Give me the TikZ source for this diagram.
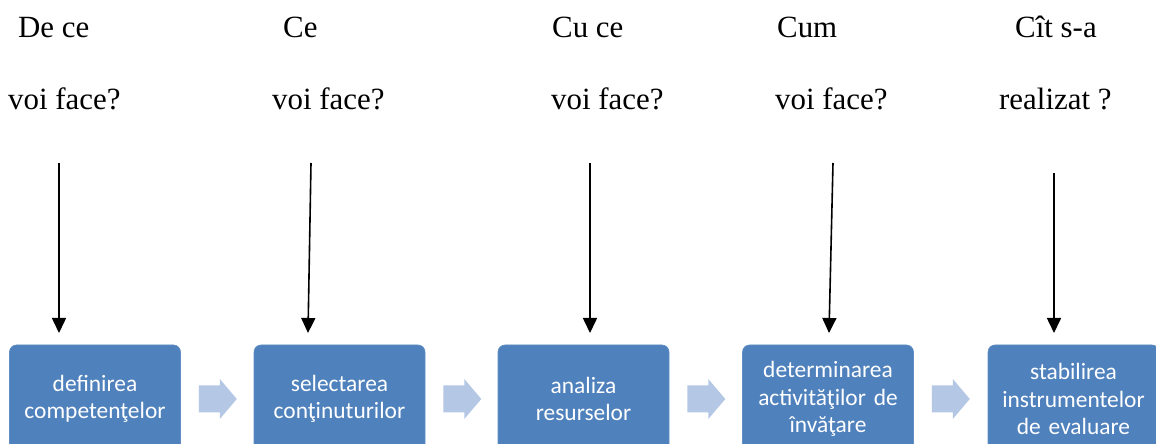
\documentclass[tikz,border=0pt]{standalone}
\usepackage{fontspec}
\setmainfont{Liberation Serif}
\newfontfamily\boxfont{Carlito}
\usetikzlibrary{arrows.meta}
\definecolor{boxblue}{HTML}{4F81BD}
\definecolor{chevron}{HTML}{B4C7E4}
\tikzset{
  question/.style={anchor=base west, inner sep=0pt, font=\fontsize{31}{31}\selectfont},
  stepbox/.style={rectangle, rounded corners=7bp, fill=boxblue, draw=boxblue!90!white, line width=0.6bp,
    minimum width=171bp, minimum height=108bp, text width=168bp, align=center, text=white, inner sep=0pt,
    font=\boxfont\fontsize{23.5}{27.5}\selectfont},
  downarrow/.style={line width=1.6bp, -{Triangle[width=14bp,length=15bp]}},
  chev/.style={fill=chevron}
}
\begin{document}
\begin{tikzpicture}[x=1bp, y=-1bp]
\useasboundingbox (0,0) rectangle (1156,444);
\fill[white] (0,0) rectangle (1156,444);
\begin{scope}
\clip (0,0) rectangle (1156,444);
% question texts
\node[question] (q1a) at (18,38) {De ce};
\node[question] (q1b) at (8,110) {voi face?};
\node[question] (q2a) at (283,38) {Ce};
\node[question] (q2b) at (272,110) {voi face?};
\node[question] (q3a) at (552,38) {Cu ce};
\node[question] (q3b) at (551,110) {voi face?};
\node[question] (q4a) at (777,38) {Cum};
\node[question] (q4b) at (775,110) {voi face?};
\node[question] (q5a) at (1015,38) {Cît s-a};
\node[question] (q5b) at (999,110) {realizat ?};
% boxes
\node[stepbox] (b1) at (95,399) {definirea\\competenţelor};
\node[stepbox] (b2) at (339.5,399) {selectarea\\conţinuturilor};
\node[stepbox] (b3) at (583.5,399) {analiza\\resurselor};
\node[stepbox] (b4) at (828,399) {determinarea\\activităţilor de\\învăţare};
\node[stepbox] (b5) at (1073.5,399) {stabilirea\\instrumentelor\\de evaluare};
% chevrons between boxes
\foreach \a in {b1,b2,b3,b4}{
  \fill[chev] ([xshift=18bp,yshift=-13.5bp]\a.east) -- ([xshift=39bp,yshift=-13.5bp]\a.east)
    -- ([xshift=39bp,yshift=-20bp]\a.east) -- ([xshift=56bp,yshift=0bp]\a.east)
    -- ([xshift=39bp,yshift=20bp]\a.east) -- ([xshift=39bp,yshift=13.5bp]\a.east)
    -- ([xshift=18bp,yshift=13.5bp]\a.east) -- cycle;
}
% vertical arrows
\coordinate (s1) at (59,163);   \coordinate (e1) at (59,333);
\coordinate (s2) at (311,163);  \coordinate (e2) at (308,333);
\coordinate (s3) at (590,163);  \coordinate (e3) at (590,333);
\coordinate (s4) at (833,163);  \coordinate (e4) at (829,333);
\coordinate (s5) at (1054,173); \coordinate (e5) at (1054,333);
\foreach \i in {1,...,5}{ \draw[downarrow] (s\i) -- (e\i); }
\end{scope}
\end{tikzpicture}
\end{document}
